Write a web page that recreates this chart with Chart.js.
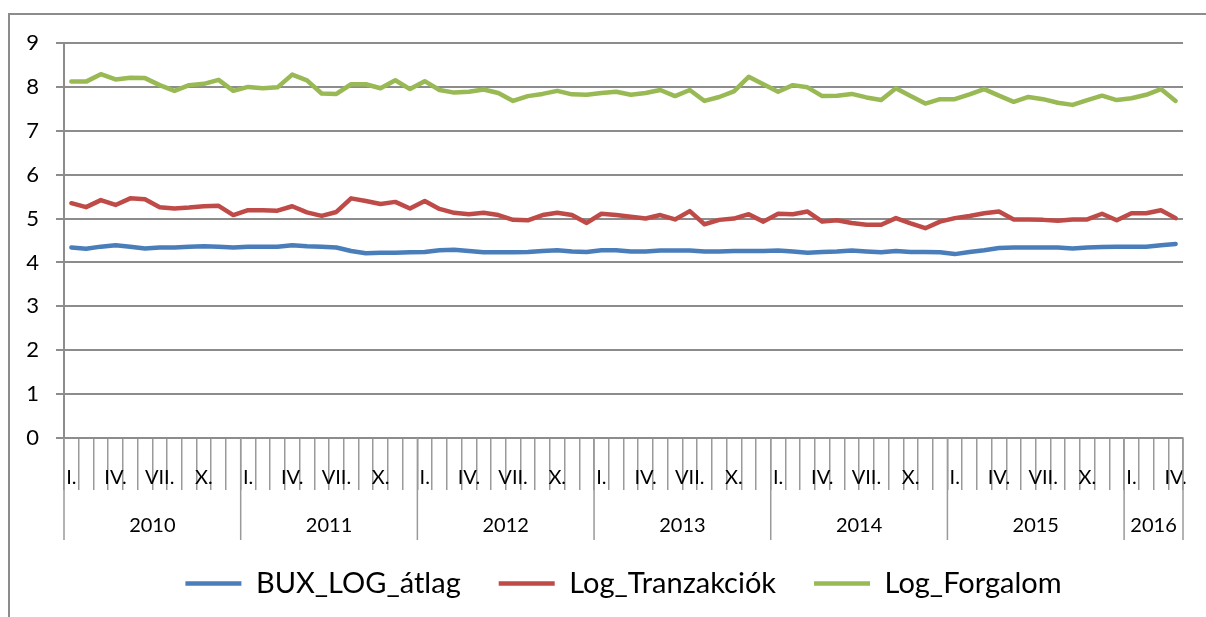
<!DOCTYPE html>
<html lang="hu">
<head>
  <meta charset="UTF-8">
  <title>BUX, tranzakciók, forgalom</title>
  <script src="https://cdn.jsdelivr.net/npm/chart.js"></script>
  <style>
    body { margin: 0; background: #fff; }
    #wrap { position: relative; width: 1206px; height: 617px; overflow: hidden; }
    #frame { position: absolute; left: 8px; top: 13px; width: 1300px; height: 700px;
             border-left: 2px solid #8c8c8c; border-top: 2px solid #8c8c8c; }
    #chart { position: absolute; left: 0; top: 0; }
  </style>
</head>
<body>
  <div id="wrap">
    <div id="frame"></div>
    <canvas id="chart" width="1206" height="617"></canvas>
  </div>

  <script>
    // years and how many months each one has in the data (2016: Jan-Apr)
    const years = ['2010', '2011', '2012', '2013', '2014', '2015', '2016'];
    const yearMonths = [12, 12, 12, 12, 12, 12, 4];
    const monthNames = ['I.', '', '', 'IV.', '', '', 'VII.', '', '', 'X.', '', ''];

    const bux = [
      4.34, 4.31, 4.36, 4.39, 4.36, 4.32, 4.34, 4.34, 4.36, 4.37, 4.36, 4.34,
      4.36, 4.36, 4.36, 4.39, 4.37, 4.36, 4.34, 4.26, 4.21, 4.22, 4.22, 4.23,
      4.24, 4.28, 4.29, 4.26, 4.23, 4.23, 4.23, 4.24, 4.26, 4.28, 4.25, 4.24,
      4.28, 4.28, 4.25, 4.25, 4.27, 4.27, 4.27, 4.25, 4.25, 4.26, 4.26, 4.26,
      4.27, 4.25, 4.22, 4.24, 4.25, 4.27, 4.25, 4.23, 4.26, 4.24, 4.24, 4.23,
      4.19, 4.24, 4.28, 4.33, 4.34, 4.34, 4.34, 4.34, 4.32, 4.34, 4.35, 4.36,
      4.36, 4.36, 4.39, 4.42
    ];
    const tranzakciok = [
      5.35, 5.26, 5.42, 5.31, 5.46, 5.44, 5.26, 5.23, 5.25, 5.28, 5.29, 5.08,
      5.19, 5.19, 5.18, 5.28, 5.14, 5.06, 5.15, 5.46, 5.40, 5.33, 5.38, 5.23,
      5.40, 5.22, 5.13, 5.10, 5.13, 5.08, 4.97, 4.96, 5.08, 5.13, 5.08, 4.90,
      5.11, 5.08, 5.04, 5.00, 5.08, 4.98, 5.17, 4.87, 4.97, 5.00, 5.10, 4.93,
      5.11, 5.10, 5.16, 4.93, 4.96, 4.90, 4.86, 4.86, 5.01, 4.89, 4.78, 4.93,
      5.01, 5.06, 5.12, 5.16, 4.98, 4.98, 4.97, 4.95, 4.98, 4.98, 5.11, 4.96,
      5.12, 5.12, 5.19, 5.01
    ];
    const forgalom = [
      8.12, 8.12, 8.29, 8.17, 8.21, 8.20, 8.04, 7.91, 8.04, 8.07, 8.16, 7.91,
      8.00, 7.97, 7.99, 8.28, 8.15, 7.85, 7.84, 8.06, 8.06, 7.97, 8.15, 7.95,
      8.13, 7.93, 7.87, 7.89, 7.94, 7.86, 7.68, 7.79, 7.84, 7.91, 7.83, 7.82,
      7.86, 7.89, 7.82, 7.86, 7.93, 7.79, 7.93, 7.68, 7.77, 7.90, 8.23, 8.06,
      7.89, 8.04, 7.99, 7.79, 7.80, 7.84, 7.76, 7.70, 7.97, 7.79, 7.62, 7.72,
      7.72, 7.83, 7.95, 7.80, 7.66, 7.77, 7.72, 7.64, 7.59, 7.70, 7.80, 7.70,
      7.74, 7.82, 7.95, 7.68
    ];

    // one label per month, only I., IV., VII., X. shown
    const labels = [];
    yearMonths.forEach(n => {
      for (let m = 0; m < n; m++) labels.push(monthNames[m]);
    });

    const gridGray = '#8c8c8c';
    const tickFont = { family: 'Lato', size: 22 };

    // draws the second row of the category axis (years) with separators
    const yearRow = {
      id: 'yearRow',
      afterDraw(chart) {
        const x = chart.scales.x;
        const ctx = chart.ctx;
        const top = x.top;
        ctx.save();
        ctx.strokeStyle = '#9a9a9a';
        ctx.lineWidth = 1.5;
        ctx.fillStyle = '#000';
        ctx.font = '20px Lato';
        ctx.textAlign = 'center';
        ctx.textBaseline = 'middle';
        let start = 0;
        const edge = i => x.getPixelForValue(i - 0.5);
        ctx.beginPath();
        ctx.moveTo(edge(0), top);
        ctx.lineTo(edge(0), top + 102);
        years.forEach((yr, k) => {
          const end = start + yearMonths[k];
          const px = edge(end);
          ctx.moveTo(px, top);
          ctx.lineTo(px, top + 102);
          ctx.fillText(yr, (edge(start) + px) / 2, top + 88);
          start = end;
        });
        ctx.stroke();
        ctx.restore();
      }
    };

    const ds = (label, data, color) => ({
      label, data,
      borderColor: color, backgroundColor: color,
      borderWidth: 4.5, borderCapStyle: 'round', borderJoinStyle: 'round'
    });

    const ctx = document.getElementById('chart').getContext('2d');
    const chart = new Chart(ctx, {
      type: 'line',
      data: {
        labels: labels,
        datasets: [
          ds('BUX_LOG_átlag', bux, '#4a7ebb'),
          ds('Log_Tranzakciók', tranzakciok, '#be4b48'),
          ds('Log_Forgalom', forgalom, '#98b954')
        ]
      },
      options: {
        responsive: false,
        animation: false,
        layout: { padding: { left: 0, right: 23, top: 43, bottom: 9 } },
        elements: {
          line: { tension: 0 },
          point: { radius: 0, hoverRadius: 0 }
        },
        scales: {
          x: {
            offset: true,
            grid: { offset: true, drawOnChartArea: false, tickLength: 52, color: '#9a9a9a', lineWidth: 1.5 },
            border: { display: true, color: gridGray, width: 2 },
            ticks: { autoSkip: false, maxRotation: 0, padding: -24, color: '#000', font: { family: 'Lato', size: 20 } },
            afterFit: s => { s.height = 93; }
          },
          y: {
            min: 0,
            max: 9,
            ticks: { stepSize: 1, padding: 17, color: '#000', font: tickFont },
            grid: { color: gridGray, lineWidth: 2, tickLength: 8 },
            border: { display: true, color: gridGray, width: 2 },
            afterFit: s => { s.width = 64; }
          }
        },
        plugins: {
          legend: {
            position: 'bottom',
            fullSize: false,
            maxHeight: 86,
            labels: {
              usePointStyle: true,
              pointStyle: 'line',
              pointStyleWidth: 56,
              padding: 38,
              color: '#000',
              font: { family: 'Lato', size: 29 }
            }
          },
          tooltip: { enabled: false }
        }
      },
      plugins: [yearRow]
    });
  </script>
</body>
</html>
